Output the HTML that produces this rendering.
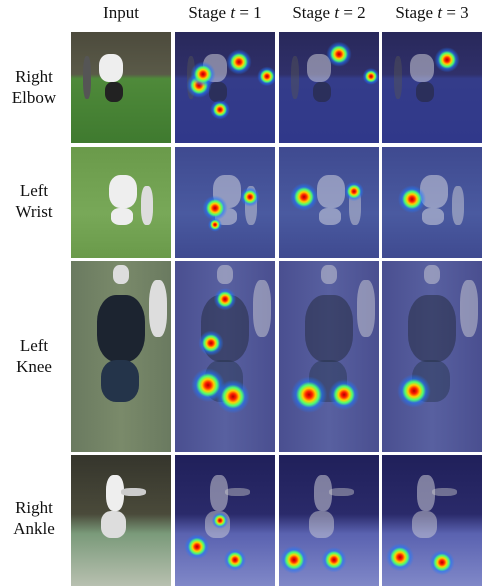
<!DOCTYPE html>
<html><head><meta charset="utf-8"><style>
body{margin:0;width:487px;height:586px;background:#fff;position:relative;overflow:hidden;font-family:"Liberation Serif",serif;}
.h{position:absolute;top:3px;font-size:17px;color:#111;text-align:center;width:110px;white-space:nowrap}
.l{position:absolute;left:0;width:68px;text-align:center;font-size:17px;line-height:21px;color:#111}
.c{position:absolute;overflow:hidden}
.fig{position:absolute;border-radius:40%}
</style></head><body>
<div class="h" style="left:66px">Input</div>
<div class="h" style="left:170px">Stage <i>t</i> = 1</div>
<div class="h" style="left:274px">Stage <i>t</i> = 2</div>
<div class="h" style="left:377px">Stage <i>t</i> = 3</div>
<div class="l" style="top:66px">Right<br>Elbow</div>
<div class="l" style="top:180px">Left<br>Wrist</div>
<div class="l" style="top:335px">Left<br>Knee</div>
<div class="l" style="top:497px">Right<br>Ankle</div>
<div id="g"></div>
<script>
const colX=[71,175,279,382], colW=100;
const rows=[{y:32,h:111,name:'elbow'},{y:147,h:111,name:'wrist'},{y:261,h:191,name:'knee'},{y:455,h:131,name:'ankle'}];
const photo=[
 'linear-gradient(#4c4a3c 0%,#5a5a48 38%,#4f8a3a 42%,#3f7a2f 100%)',
 'linear-gradient(#6a9a4a,#78a858 60%,#6a9a4a)',
 'linear-gradient(90deg,#6a7a60,#7a8a6a 50%,#6a7a60)',
 'linear-gradient(#35352c 0%,#4a4a3a 45%,#7a9a7a 60%,#b8c0b0 100%)'];
const blue=[
 'linear-gradient(#28285a 0%,#30306a 38%,#343c8a 42%,#30388a 100%)',
 'linear-gradient(#3f4a90,#4a5aa0 60%,#3f4a90)',
 'linear-gradient(90deg,#4a4f90,#5860a0 50%,#4a4f90)',
 'linear-gradient(#20205a 0%,#2a2a6a 45%,#5a62b0 60%,#8088c8 100%)'];
// figure shapes [x%,y%,w%,h%,color]
const figs=[
 [[28,20,24,25,'#eee'],[34,45,18,18,'#222'],[12,22,8,38,'#555']],
 [[38,25,28,30,'#eee'],[40,55,22,15,'#eee'],[70,35,12,35,'#ddd']],
 [[26,18,48,35,'#1c2430'],[30,52,38,22,'#24344a'],[42,2,16,10,'#ddd'],[78,10,18,30,'#ddd']],
 [[35,15,18,28,'#eee'],[30,43,25,20,'#ddd'],[50,25,25,6,'#ccc']]];
// heat blobs per stage: [x%,y%,size]
const heat=[
 [[[28,38,9],[24,48,9],[64,27,9],[92,40,7],[45,70,7]],[[60,20,9],[92,40,6]],[[65,25,9]]],
 [[[40,55,9],[75,45,7],[40,70,5]],[[25,45,10],[75,40,7]],[[30,47,10]]],
 [[[33,65,12],[58,71,12],[36,43,9],[50,20,8]],[[30,70,13],[65,70,11]],[[32,68,12]]],
 [[[22,70,9],[60,80,8],[45,50,6]],[[15,80,10],[55,80,9]],[[18,78,10],[60,82,9]]]];
function blob(b){const [x,y,s]=b;return `radial-gradient(circle at ${x}% ${y}%, #b00000 0, #ff2000 ${s*0.25}px, #ffd000 ${s*0.5}px, #50ff70 ${s*0.75}px, rgba(30,120,255,.6) ${s}px, rgba(30,80,255,0) ${s*1.4}px)`;}
const g=document.getElementById('g');
rows.forEach((r,ri)=>{
 colX.forEach((x,ci)=>{
  const c=document.createElement('div');
  c.className='c';
  
  
  c.style.cssText=`left:${x}px;top:${r.y}px;width:${colW}px;height:${r.h}px;background:${ci==0?photo[ri]:blue[ri]}`;
  figs[ri].forEach(f=>{
   const d=document.createElement('div');d.className='fig';
   
   
   d.style.cssText=`left:${f[0]}%;top:${f[1]}%;width:${f[2]}%;height:${f[3]}%;background:${f[4]};opacity:${ci==0?1:.45}`;
   c.appendChild(d);
  });
  if(ci>0){
   const o=document.createElement('div');
   
   
   o.style.cssText='position:absolute;inset:0;background:'+heat[ri][ci-1].map(blob).join(',');
   c.appendChild(o);
  }
  g.appendChild(c);
 });
});
</script>
</body></html>
